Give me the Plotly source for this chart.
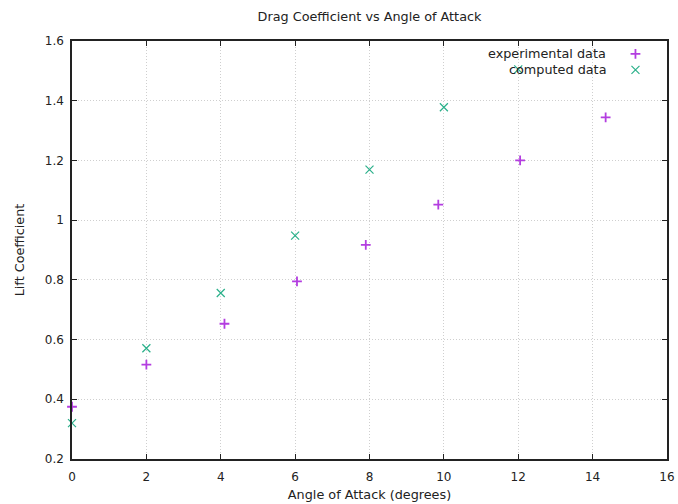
import plotly.graph_objects as go

# Angle of attack (degrees) and lift coefficients
exp_angle = [0.0, 2.0, 4.1, 6.05, 7.9, 9.85, 12.05, 14.35]
exp_lift = [0.375, 0.516, 0.653, 0.795, 0.917, 1.052, 1.2, 1.344]

comp_angle = [0, 2, 4, 6, 8, 10, 12]
comp_lift = [0.32, 0.571, 0.756, 0.948, 1.169, 1.378, 1.505]

series_names = ["experimental data", "computed data"]
series_colors = ["#b33de0", "#2ab08a"]
series_symbols = ["cross-thin-open", "x-thin-open"]
series_sizes = [7, 8]
series_widths = [1.8, 1.2]

x_ticks = [0, 2, 4, 6, 8, 10, 12, 14, 16]
y_ticks = [0.2, 0.4, 0.6, 0.8, 1.0, 1.2, 1.4, 1.6]
y_tick_text = ["0.2", "0.4", "0.6", "0.8", "1", "1.2", "1.4", "1.6"]

FONT = "DejaVu Sans"
INK = "#222222"
TEXT_SIZE = 12.8

fig = go.Figure()

for xs, ys, name, color, sym, sz, lw in zip(
    [exp_angle, comp_angle], [exp_lift, comp_lift], series_names,
    series_colors, series_symbols, series_sizes, series_widths,
):
    fig.add_trace(
        go.Scatter(
            x=xs, y=ys, mode="markers", name=name, showlegend=False,
            marker=dict(symbol=sym, size=sz, color=color, line=dict(color=color, width=lw)),
            cliponaxis=False,
        )
    )

# key: text on the left, sample symbol on the right, drawn on a unit overlay axis
key_rows = [0.969, 0.931]
key_sym_x = 0.947
key_text_x = 0.900
for row, name, color, sym, sz, lw in zip(
    key_rows, series_names, series_colors, series_symbols, series_sizes, series_widths
):
    fig.add_trace(
        go.Scatter(
            x=[key_sym_x], y=[row], mode="markers", xaxis="x2", yaxis="y2",
            showlegend=False, hoverinfo="skip",
            marker=dict(symbol=sym, size=sz, color=color, line=dict(color=color, width=lw)),
        )
    )
    fig.add_annotation(
        x=key_text_x, y=row, xref="x2", yref="y2", text=name, showarrow=False,
        xanchor="right", yanchor="middle", font=dict(family=FONT, size=TEXT_SIZE, color=INK),
    )

axis_common = dict(
    showline=True, linecolor=INK, linewidth=1.5, mirror="ticks",
    ticks="inside", ticklen=5, tickwidth=1, tickcolor=INK,
    showgrid=True, gridcolor="#cfcfcf", gridwidth=1, griddash="1px,2px",
    zeroline=False, automargin=False,
    tickfont=dict(family=FONT, size=12, color=INK),
)

fig.update_layout(
    width=678, height=504,
    margin=dict(l=72, r=11, t=41, b=45),
    plot_bgcolor="white", paper_bgcolor="white",
    font=dict(family=FONT, size=12, color=INK),
    title=dict(
        text="Drag Coefficient vs Angle of Attack", x=0.5, xref="paper",
        y=1 - 17 / 504, yref="container", yanchor="middle", xanchor="center",
        font=dict(family=FONT, size=TEXT_SIZE, color=INK),
    ),
    xaxis=dict(
        range=[0, 16], tickvals=x_ticks, ticktext=[str(v) for v in x_ticks],
        ticklabelstandoff=6,
        title=dict(text="Angle of Attack (degrees)", standoff=7,
                   font=dict(family=FONT, size=TEXT_SIZE)),
        **axis_common,
    ),
    yaxis=dict(
        range=[0.2, 1.6], tickvals=y_ticks, ticktext=y_tick_text,
        ticklabelstandoff=4,
        title=dict(text="Lift Coefficient", standoff=17,
                   font=dict(family=FONT, size=TEXT_SIZE)),
        **axis_common,
    ),
    xaxis2=dict(range=[0, 1], overlaying="x", visible=False, fixedrange=True),
    yaxis2=dict(range=[0, 1], overlaying="y", visible=False, fixedrange=True),
    showlegend=False,
)

fig.write_html("out.html")
